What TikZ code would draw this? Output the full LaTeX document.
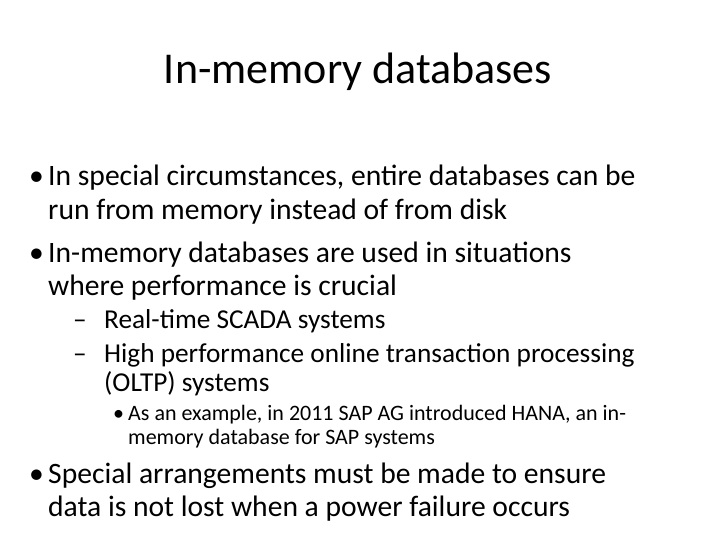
\documentclass[tikz,border=0pt]{standalone}
\usepackage{fontspec}
\setmainfont{Carlito}
\begin{document}
\begin{tikzpicture}[x=1pt,y=-1pt,
  l1/.style={anchor=base west,inner sep=0pt,font=\fontsize{29.6}{33}\selectfont},
  l2/.style={anchor=base west,inner sep=0pt,font=\fontsize{27.3}{31}\selectfont},
  l3/.style={anchor=base west,inner sep=0pt,font=\fontsize{22}{24}\selectfont}]
\useasboundingbox[fill=white] (0,0) rectangle (720,540);
\node[anchor=base,inner sep=0pt,font=\fontsize{44}{50}\selectfont] (t) at (358,84) {In-memory databases};
\node[l1] (b1) at (29,186) {•};
\node[l1] (a1) at (48,186) {In special circumstances, entire databases can be};
\node[l1] (a2) at (48,219) {run from memory instead of from disk};
\node[l1] (b2) at (29,262) {•};
\node[l1] (a3) at (48,262) {In-memory databases are used in situations};
\node[l1] (a4) at (48,295) {where performance is crucial};
\node[l2] (d1) at (73,328) {–};
\node[l2] (c1) at (104,328) {Real-time SCADA systems};
\node[l2] (d2) at (73,362) {–};
\node[l2] (c2) at (104,362) {High performance online transaction processing};
\node[l2] (c3) at (104,391) {(OLTP) systems};
\node[l3] (e0) at (113,420) {•};
\node[l3] (e1) at (128,420) {As an example, in 2011 SAP AG introduced HANA, an in-};
\node[l3] (e2) at (128,444) {memory database for SAP systems};
\node[l1] (b3) at (29,483) {•};
\node[l1] (a5) at (48,483) {Special arrangements must be made to ensure};
\node[l1] (a6) at (48,516) {data is not lost when a power failure occurs};
\end{tikzpicture}
\end{document}
